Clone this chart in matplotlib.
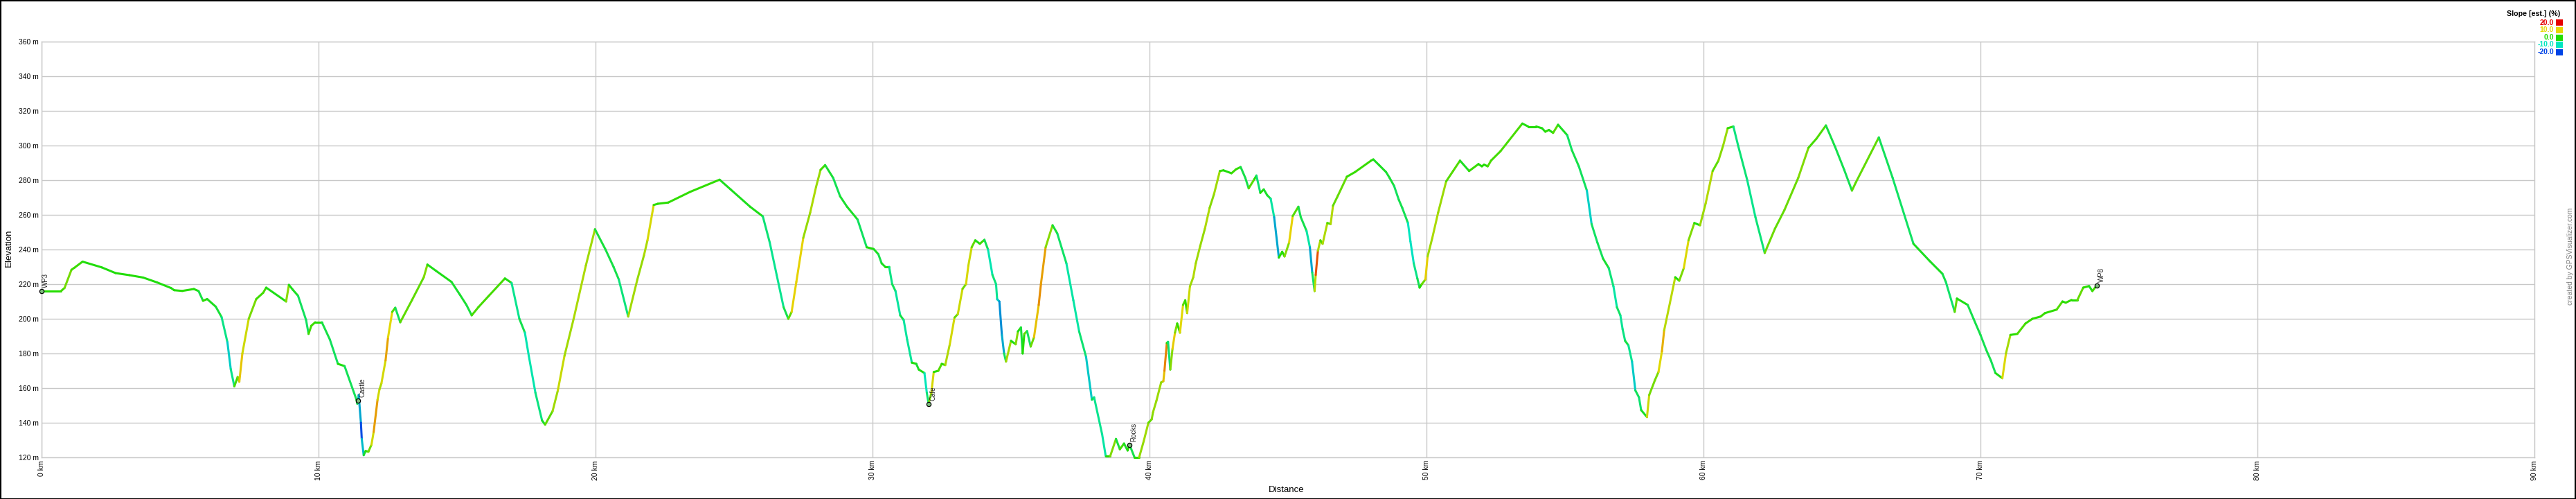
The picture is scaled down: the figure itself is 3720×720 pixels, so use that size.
import numpy as np
import matplotlib
matplotlib.use("Agg")
import matplotlib.pyplot as plt
from matplotlib.collections import LineCollection
from matplotlib.colors import LinearSegmentedColormap, Normalize
from matplotlib.patches import Rectangle

plt.rcParams['font.family'] = ['Liberation Sans', 'DejaVu Sans']

# ---- data: distance (km) and elevation (m) ----
dist_km = [
    0, 0.7, 0.83, 1.08, 1.18, 1.48, 2.17, 2.67, 3.17, 3.67, 4.17, 4.67, 4.79, 5.08, 5.5, 5.67,
    5.83, 5.98, 6.29, 6.5, 6.71, 6.83, 6.96, 7.08, 7.14, 7.25, 7.48, 7.75, 8.0, 8.11,
    8.83, 8.93, 9.07, 9.26, 9.55, 9.64, 9.74, 9.88, 10.12, 10.41, 10.7, 10.94, 11.37, 11.40,
    11.43, 11.45, 11.53, 11.56, 11.63, 11.7, 11.8, 11.91, 11.99, 12.13, 12.2, 12.27, 12.42,
    12.51, 12.66, 12.77, 12.95, 13.37, 13.8, 13.93, 14.24, 14.8, 15.1, 15.34, 15.53, 15.77,
    16.15, 16.73, 16.97, 17.25, 17.45, 17.59, 17.83, 18.07, 18.18, 18.45, 18.64, 18.88, 19.21,
    19.65, 19.98, 20.36, 20.65, 20.84, 21.18, 21.51, 21.75, 21.875, 22.1, 22.25, 22.625, 23.42,
    24.48, 24.875, 25.58, 26.04, 26.29, 26.54, 26.79, 26.96, 27.08, 27.25, 27.5, 27.75, 27.96,
    28.125, 28.29, 28.58, 28.83, 29.08, 29.46, 29.79, 30.04, 30.21, 30.33, 30.46, 30.6, 30.71,
    30.83, 31.0, 31.125, 31.25, 31.42, 31.58, 31.67, 31.875, 31.96, 32.025, 32.125, 32.21,
    32.375, 32.5, 32.625, 32.79, 32.96, 33.08, 33.25, 33.375, 33.46, 33.58, 33.71, 33.875,
    34.04, 34.17, 34.33, 34.46, 34.5, 34.58, 34.67, 34.75, 34.82, 35.0, 35.17, 35.25, 35.36,
    35.42, 35.48, 35.58, 35.71, 35.83, 36.0, 36.08, 36.25, 36.5, 36.67, 37.0, 37.25, 37.46,
    37.71, 37.92, 38.0, 38.29, 38.42, 38.58, 38.79, 38.93, 39.08, 39.21, 39.28, 39.46, 39.625,
    39.79, 39.96, 40.08, 40.125, 40.25, 40.42, 40.5, 40.54, 40.625, 40.67, 40.75, 40.83, 40.92,
    41.0, 41.1, 41.21, 41.29, 41.36, 41.46, 41.58, 41.67, 41.83, 42.0, 42.17, 42.33, 42.54,
    42.67, 42.96, 43.125, 43.29, 43.46, 43.58, 43.79, 43.86, 44.0, 44.125, 44.25, 44.375, 44.5,
    44.67, 44.79, 44.875, 45.04, 45.17, 45.375, 45.46, 45.67, 45.79, 45.875, 45.96, 46.0, 46.08,
    46.17, 46.25, 46.42, 46.54, 46.625, 46.79, 47.125, 47.42, 48.0, 48.08, 48.29, 48.54, 48.67,
    48.83, 49.0, 49.125, 49.33, 49.42, 49.54, 49.67, 49.75, 49.83, 49.96, 50.04, 50.21, 50.42,
    50.71, 50.96, 51.21, 51.54, 51.875, 52.0, 52.08, 52.21, 52.33, 52.67, 53.46, 53.67, 53.96,
    54.17, 54.29, 54.42, 54.57, 54.75, 55.08, 55.25, 55.5, 55.79, 55.96, 56.17, 56.375, 56.58,
    56.75, 56.875, 57.0, 57.08, 57.17, 57.29, 57.42, 57.54, 57.67, 57.75, 57.96, 58.04, 58.25,
    58.375, 58.5, 58.58, 58.79, 58.98, 59.125, 59.29, 59.46, 59.67, 59.875, 60.08, 60.33, 60.54,
    60.71, 60.875, 61.08, 61.25, 61.58, 61.875, 62.21, 62.58, 62.92, 63.42, 63.79, 64.08, 64.42,
    64.75, 65.08, 65.36, 65.5, 66.33, 66.83, 67.58, 68.17, 68.625, 68.75, 69.07, 69.15, 69.54,
    69.75, 70.0, 70.21, 70.375, 70.54, 70.79, 70.92, 71.08, 71.33, 71.625, 71.875, 72.17, 72.33,
    72.75, 72.96, 73.08, 73.29, 73.5, 73.71, 73.92, 74.04, 74.17, 74.21,
]
elev_m = [
    216, 216, 217.8, 228.3, 229.4, 233, 229.7, 226.4, 225.2, 223.8, 221, 217.8, 216.5, 216.1, 217.2, 216,
    210.4, 211.4, 207, 201, 186.5, 171, 161, 166.4, 163.7, 180, 200, 211.4, 215, 218,
    210, 219.6, 216.8, 213.3, 199.3, 191.3, 196, 198, 198, 188, 174, 172.7, 153.3, 151,
    153, 156, 140, 130.7, 121.3, 123.7, 123.3, 127.3, 134.7, 153.3, 159.3, 162.7, 176,
    189.3, 204, 206.4, 198, 210.7, 224, 231.3, 227.7, 221.3, 214, 208, 202, 206.7,
    213.3, 223.3, 220.7, 200, 192, 178.7, 157.3, 141.3, 138.9, 146.7, 158.7, 178.7, 200,
    230.7, 251.7, 240, 230, 222.7, 201.3, 222.7, 236.7, 245.3, 265.7, 266.4, 267.1, 273.3,
    280.3, 274.7, 264.7, 259.1, 244, 225.3, 206.7, 200, 204, 221.3, 246.7, 261.3, 276,
    286, 288.7, 281.3, 270.7, 264.7, 257.3, 241.3, 240.3, 237.3, 232, 230, 230, 220,
    216, 202, 199.3, 188, 174.7, 174, 170.7, 168.7, 157.3, 151, 157.3, 169.3,
    170, 174, 173.3, 185.3, 200.7, 202.7, 217.3, 220, 230.7, 241.3, 245.3, 243.3,
    245.6, 240, 225.3, 220, 211.3, 210, 190.7, 180, 175.3, 187.3, 185.3, 192.7, 195,
    180, 191.3, 192.9, 184, 189.3, 208, 220, 241.3, 254, 249.3, 232, 210.7, 192.7,
    178, 153.3, 154.7, 133.3, 120.7, 120.7, 130.7, 124.7, 128, 124, 127.3, 120, 120,
    129.3, 140, 142, 146, 152.7, 163.3, 164, 170, 186, 186.7, 170.7, 182.7, 192,
    197.3, 192, 208, 210.7, 203.3, 218.7, 224, 232, 242, 252, 264, 272, 285.3,
    285.7, 284, 286.3, 287.6, 281.3, 275.3, 280.7, 282.7, 272.7, 274.7, 271.3, 269.3, 258.7,
    235.3, 238.7, 236, 244, 259.3, 264.7, 258.7, 250.7, 241.3, 226.7, 216, 225.3, 239.3,
    245.3, 243.3, 255.3, 254.7, 265.3, 270.7, 282, 284.7, 291.3, 292, 288.7, 284.7, 281.3,
    276.7, 268.7, 264, 255.3, 244.7, 232, 223.3, 218, 220, 222.7, 236, 246.7, 261.3,
    279.3, 285.3, 291.3, 285.3, 289.3, 288, 289, 288, 291.3, 296.7, 312.7, 311, 311,
    310, 308, 309, 307.3, 312, 306, 297.3, 288, 274, 254.7, 244, 234.7, 229.3,
    218.7, 206.7, 202, 194, 187.3, 184.7, 175.3, 158.7, 154.7, 147.3, 143.3, 156, 164.7,
    169.3, 181.3, 193.3, 209.3, 224, 222, 229.3, 245.3, 255.3, 254, 266.7, 285.3, 291.3,
    300, 310, 311, 300, 280, 258.7, 238, 252, 262.7, 281.3, 298.7, 304, 311.6,
    299.3, 286, 274, 278.7, 304.7, 281.3, 243.3, 233.3, 226, 221.3, 204, 211.7, 208,
    200, 190.7, 182, 176, 168.7, 165.7, 180, 190.7, 191.3, 197.3, 200, 201.3, 203.3,
    205.3, 210, 209.3, 210.9, 210.9, 218, 218.9, 216, 218.7, 219.3,
]

waypoint_names = ["WP3", "Castle", "Cafe", "Rocks", "WP8"]
waypoint_km = [0.0, 11.43, 32.025, 39.28, 74.21]
waypoint_elev = [216, 153, 151, 127.3, 219.3]

legend_values = [20.0, 10.0, 0.0, -10.0, -20.0]
legend_colors = ["#e60000", "#e6d800", "#22dd00", "#00e6c0", "#0044e6"]

x_ticks = list(range(0, 91, 10))
y_ticks = list(range(120, 361, 20))

# ---- figure ----
W, H = 3720, 720
fig = plt.figure(figsize=(W / 100, H / 100), dpi=100)
fig.patch.set_facecolor("white")
ax = fig.add_axes([60 / W, (H - 660) / H, 3600 / W, 600 / H])
ax.set_xlim(0, 90)
ax.set_ylim(120, 360)
ax.set_xticks(x_ticks)
ax.set_yticks(y_ticks)
ax.set_xticklabels([f"{t} km" for t in x_ticks], rotation=90, fontsize=7.5, va="top", ha="center")
ax.set_yticklabels([f"{t} m" for t in y_ticks], fontsize=7.5)
ax.tick_params(length=0, pad=3)
ax.tick_params(axis="x", pad=3)
ax.grid(True, color="#c8c8c8", linewidth=1.0)
for s in ax.spines.values():
    s.set_color("#c8c8c8")
    s.set_linewidth(1.0)
ax.set_axisbelow(True)

# slope-coloured profile
d = np.array(dist_km)
e = np.array(elev_m)
pts = np.column_stack([d, e])
segs = np.stack([pts[:-1], pts[1:]], axis=1)
mid = (d[:-1] + d[1:]) / 2
w = 0.08
slope = (np.interp(mid + w, d, e) - np.interp(mid - w, d, e)) / (2 * w * 1000) * 100
cmap = LinearSegmentedColormap.from_list(
    "slope", list(zip([0, 0.25, 0.5, 0.75, 1.0], legend_colors[::-1])))
norm = Normalize(-20, 20)
lc = LineCollection(segs, colors=cmap(norm(slope)), linewidths=2.2, capstyle="round",
                    joinstyle="round", clip_on=False, zorder=3)
ax.add_collection(lc)

# waypoints
for name, xk, ye in zip(waypoint_names, waypoint_km, waypoint_elev):
    ax.plot([xk], [ye], marker="o", ms=4.5, mfc="#7fbf7f", mec="black", mew=0.9,
            clip_on=False, zorder=5)
    ax.annotate(name, (xk, ye), xytext=(1.0, 3.5), textcoords="offset points",
                rotation=90, fontsize=7, ha="left", va="bottom", color="#222222", zorder=6)

# axis titles
fig.text(12.5 / W, 1 - 358 / H, "Elevation", rotation=90, fontsize=9.5,
         ha="center", va="center")
fig.text(1858 / W, 1 - 707 / H, "Distance", fontsize=9.5, ha="center", va="center")

# legend
fig.text(3697 / W, 1 - 20 / H, "Slope [est.] (%)", fontsize=7.7, fontweight="bold",
         ha="right", va="center")
leg_y = [32.7, 43.3, 54.0, 64.3, 75.3]
for v, c, yy in zip(legend_values, legend_colors, leg_y):
    fig.text(3688 / W, 1 - yy / H, f"{v:.1f}", fontsize=7.5, fontweight="bold",
             color=c, ha="right", va="center")
    fig.patches.append(Rectangle((3691 / W, 1 - (yy + 4.5) / H), 10 / W, 9 / H,
                                 transform=fig.transFigure, facecolor=c, edgecolor="none"))

# attribution
fig.text(3712 / W, 1 - 440 / H, "created by GPSVisualizer.com", rotation=90,
         fontsize=7.5, color="#808080", ha="center", va="bottom")

# outer border
fig.patches.append(Rectangle((0.5 / W, 0.5 / H), 1 - 1.5 / W, 1 - 1.5 / H,
                             transform=fig.transFigure, facecolor="none",
                             edgecolor="black", linewidth=1.5))

fig.savefig("out.png", dpi=100, facecolor="white")
